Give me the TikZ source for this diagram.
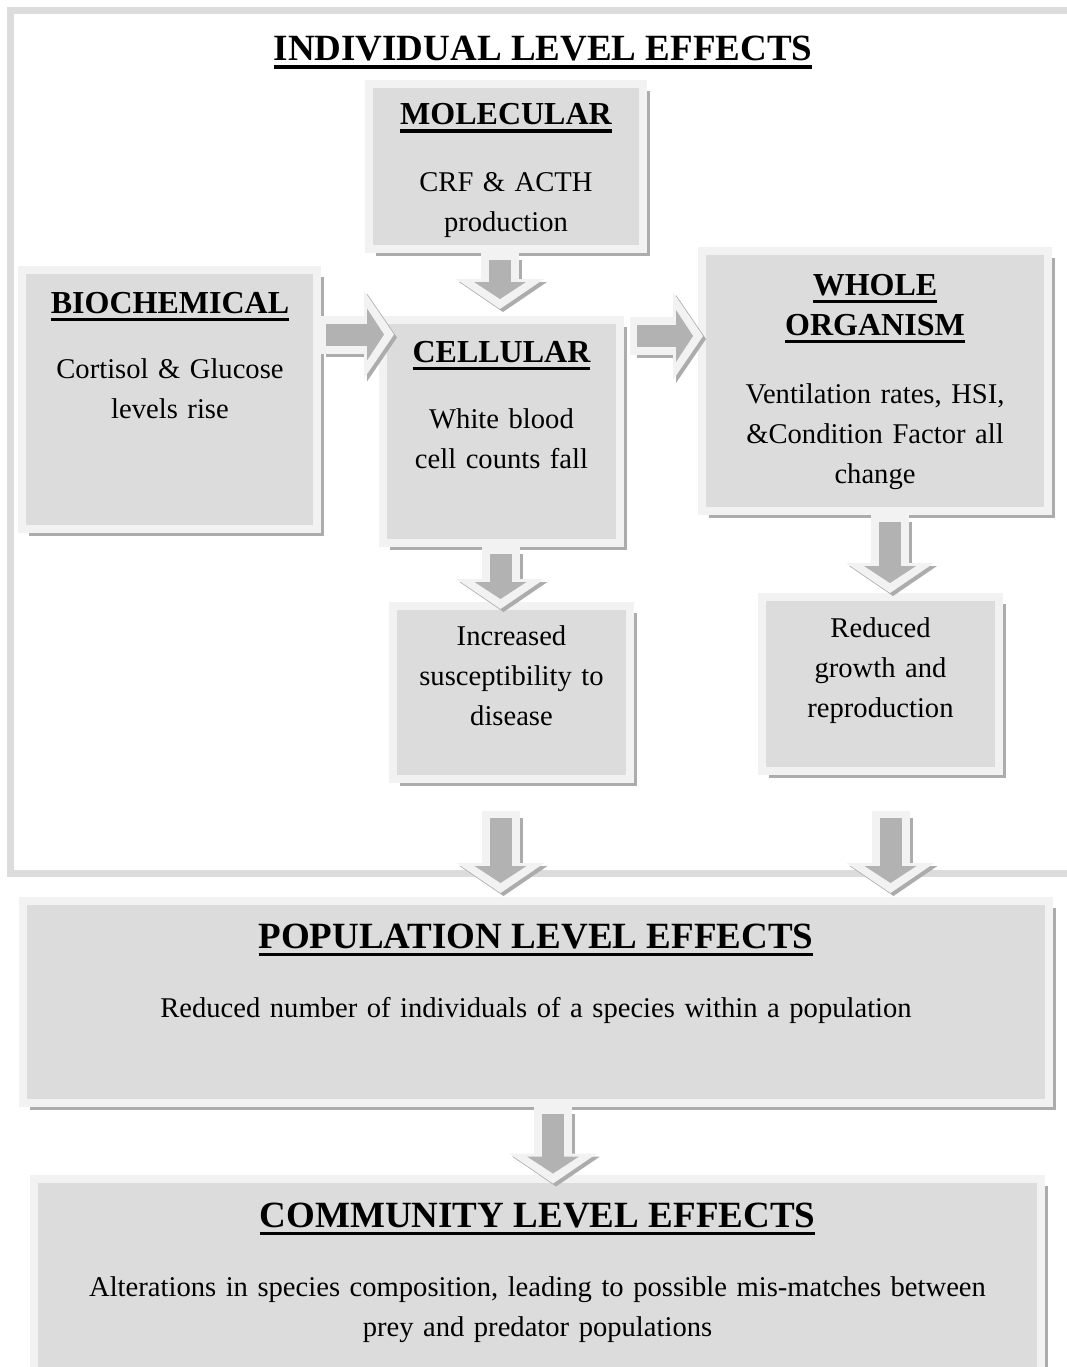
\documentclass[tikz,border=0pt]{standalone}
\usepackage{fontspec}
\setmainfont{Liberation Serif}
\usetikzlibrary{arrows.meta, positioning, calc, shadows}

\definecolor{boxfill}{RGB}{220,220,220}
\definecolor{boxedge}{RGB}{242,242,242}
\definecolor{boxshade}{RGB}{172,172,172}
\definecolor{framegray}{RGB}{220,220,220}
\definecolor{arrowcore}{RGB}{178,178,178}

\newlength\ulwidth
\newcommand{\headline}[1]{\leavevmode\settowidth{\ulwidth}{#1}\rlap{\rule[-8pt]{\ulwidth}{3.5pt}}#1}
\newcommand{\bodyfont}{\fontsize{28.6}{40}\selectfont}
\newcommand{\headfont}{\fontsize{32}{40}\selectfont\bfseries}
\newcommand{\bigheadfont}{\fontsize{37}{46}\selectfont\bfseries}
\newcommand{\blkarrow}[2]{%
  \draw[arrow shade] #1 -- #2;
  \draw[arrow edge] #1 -- #2;
  \draw[arrow core] #1 -- #2;}

\begin{document}
\begin{tikzpicture}[x=1pt, y=-1pt,
    level box/.style={fill=boxfill, draw=boxedge, line width=8pt, inner sep=0pt,
      general shadow={fill=boxshade, shadow xshift=7pt, shadow yshift=-7pt}},
    box text/.style={text width=#1, align=center, inner sep=0pt, anchor=base, font=\bodyfont},
    arrow shade/.style={boxshade, line width=38pt, shorten <=4pt, transform canvas={shift={(3,3)}},
      -{Triangle[width=88pt, length=30pt, line width=0pt]}},
    arrow edge/.style={boxedge, line width=38pt, -{Triangle[width=88pt, length=30pt, line width=0pt]}},
    arrow core/.style={arrowcore, line width=22pt, shorten <=7pt, shorten >=10pt,
      -{Triangle[width=52pt, length=17pt, line width=0pt]}}]

    \useasboundingbox (0,0) rectangle (1067,1367);

    % Draw the frame of the individual level
    \draw[framegray, line width=7pt] (10.5,10.5) rectangle (1090,873.5);
    \node[anchor=base, inner sep=0pt, font=\bigheadfont] (title) at (543,61) {\headline{INDIVIDUAL LEVEL EFFECTS}};

    % Draw the boxes
    \node[level box, minimum width=274, minimum height=165] (mol) at (506,166.5) {};
    \node[level box, minimum width=295, minimum height=259] (bio) at (169.5,399.5) {};
    \node[level box, minimum width=237, minimum height=223] (cel) at (501.5,431.5) {};
    \node[level box, minimum width=346, minimum height=260] (who) at (875,381) {};
    \node[level box, minimum width=237, minimum height=173] (inc) at (511.5,692.5) {};
    \node[level box, minimum width=237, minimum height=174] (red) at (880.5,684) {};
    \node[level box, minimum width=1026, minimum height=202] (pop) at (536,1002) {};
    \node[level box, minimum width=1007, minimum height=195] (com) at (537.5,1276) {};

    % Draw the texts
    \node[box text=262] (molt) at (506,125)
      {{\headfont\headline{MOLECULAR}}\\[27pt] CRF \& ACTH\\production};
    \node[box text=285] (biot) at (170,313)
      {{\headfont\headline{BIOCHEMICAL}}\\[25pt] Cortisol \& Glucose\\levels rise};
    \node[box text=228] (celt) at (501.5,362)
      {{\headfont\headline{CELLULAR}}\\[26pt] White blood\\cell counts fall};
    \node[box text=338] (whot) at (875,295)
      {{\headfont\headline{WHOLE}}\\{\headfont\headline{ORGANISM}}\\[28pt]
       Ventilation rates, HSI,\\\&Condition Factor all\\change};
    \node[box text=228] (inct) at (511.5,645) {Increased\\susceptibility to\\disease};
    \node[box text=228] (redt) at (880.5,637) {Reduced\\growth and\\reproduction};
    \node[box text=1000] (popt) at (536,948)
      {{\bigheadfont\headline{POPULATION LEVEL EFFECTS}}\\[29pt]
       Reduced number of individuals of a species within a population};
    \node[box text=990] (comt) at (537.5,1227)
      {{\bigheadfont\headline{COMMUNITY LEVEL EFFECTS}}\\[29pt]
       Alterations in species composition, leading to possible mis-matches between\\
       prey and predator populations};

    % Draw the block arrows
    \blkarrow{($(mol.south)+(-6,0)$)}{($(mol.south |- cel.north)+(-6,-7)$)}
    \blkarrow{($(bio.east)+(-2,-65)$)}{($(bio.east -| cel.west)+(15,-65)$)}
    \blkarrow{($(cel.north east)+(6,20)$)}{($(cel.north east -| who.west)+(5,20)$)}
    \blkarrow{($(cel.south)+(-1,0)$)}{($(cel.south |- inc.north)+(-1,7)$)}
    \blkarrow{($(who.south)+(15,0)$)}{($(who.south |- red.north)+(15,0)$)}
    \blkarrow{($(inc.south)+(-11,28)$)}{($(inc.south |- pop.north)+(-11,-4)$)}
    \blkarrow{($(red.south)+(10,36)$)}{($(red.south |- pop.north)+(10,-4)$)}
    \blkarrow{($(pop.south)+(17,0)$)}{($(pop.south |- com.north)+(17,9)$)}
\end{tikzpicture}
\end{document}
